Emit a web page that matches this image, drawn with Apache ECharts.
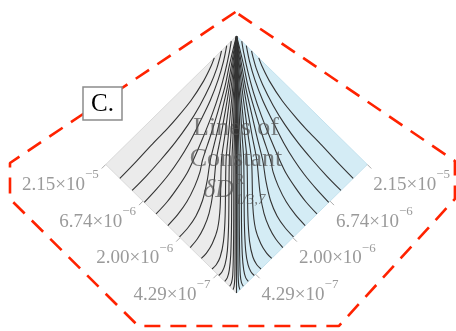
<!DOCTYPE html>
<html>
<head>
<meta charset="utf-8">
<script src="https://cdn.jsdelivr.net/npm/echarts@6/dist/echarts.min.js"></script>
<style>
  html, body { margin: 0; padding: 0; background: #fff; }
  #chart { width: 456px; height: 331px; }
</style>
</head>
<body>
<div id="chart"></div>
<script>
// diamond in normalized units: left (-1,0), top (0,1), right (1,0), bottom (0,-1)
const leftHalf = [[-1, 0], [0, 1], [0, -1]];
const rightHalf = [[0, 1], [1, 0], [0, -1]];
const centerLine = [[0, -1], [0, 1]];

// ticks on the two lower edges (fraction from side vertex to bottom vertex)
const tickPos = [0, 0.285, 0.569, 0.854];
const tickMantissa = ['2.15', '6.74', '2.00', '4.29'];
const tickExponent = ['−5', '−6', '−6', '−7'];

// contour lines of the left half (right half is the mirror)
const leftCurves = [
  [[-0.892, -0.108], [-0.775, 0.015], [-0.651, 0.151], [-0.534, 0.274], [-0.459, 0.359], [-0.348, 0.498], [-0.251, 0.651], [-0.198, 0.758], [-0.17, 0.83]],
  [[-0.798, -0.202], [-0.69, -0.09], [-0.58, 0.035], [-0.47, 0.17], [-0.37, 0.31], [-0.28, 0.46], [-0.2, 0.62], [-0.15, 0.75], [-0.125, 0.84], [-0.115, 0.885]],
  [[-0.705, -0.295], [-0.61, -0.19], [-0.52, -0.08], [-0.44, 0.035], [-0.36, 0.17], [-0.28, 0.33], [-0.2, 0.5], [-0.14, 0.66], [-0.1, 0.8], [-0.075, 0.925]],
  [[-0.615, -0.385], [-0.53, -0.29], [-0.45, -0.18], [-0.38, -0.07], [-0.33, 0.035], [-0.26, 0.2], [-0.19, 0.38], [-0.13, 0.56], [-0.085, 0.73], [-0.055, 0.87], [-0.04, 0.96]],
  [[-0.525, -0.475], [-0.45, -0.39], [-0.38, -0.29], [-0.32, -0.17], [-0.28, -0.06], [-0.26, 0.035], [-0.2, 0.22], [-0.14, 0.42], [-0.09, 0.6], [-0.055, 0.77], [-0.025, 0.9], [0, 1]],
  [[-0.436, -0.564], [-0.37, -0.49], [-0.31, -0.4], [-0.26, -0.28], [-0.225, -0.13], [-0.2, 0.035], [-0.155, 0.22], [-0.11, 0.42], [-0.07, 0.6], [-0.04, 0.77], [-0.018, 0.9], [0, 1]],
  [[-0.354, -0.646], [-0.3, -0.58], [-0.25, -0.49], [-0.21, -0.38], [-0.18, -0.22], [-0.155, 0.035], [-0.12, 0.22], [-0.085, 0.42], [-0.055, 0.6], [-0.03, 0.77], [-0.013, 0.9], [0, 1]],
  [[-0.269, -0.731], [-0.23, -0.69], [-0.185, -0.615], [-0.145, -0.5], [-0.125, -0.33], [-0.115, 0.035], [-0.09, 0.22], [-0.064, 0.42], [-0.041, 0.6], [-0.022, 0.77], [-0.01, 0.9], [0, 1]],
  [[-0.187, -0.813], [-0.155, -0.78], [-0.125, -0.72], [-0.1, -0.6], [-0.087, -0.4], [-0.08, 0.035], [-0.063, 0.22], [-0.045, 0.42], [-0.029, 0.6], [-0.016, 0.77], [-0.007, 0.9], [0, 1]],
  [[-0.136, -0.864], [-0.11, -0.835], [-0.088, -0.78], [-0.07, -0.67], [-0.06, -0.45], [-0.055, 0.035], [-0.043, 0.22], [-0.031, 0.42], [-0.02, 0.6], [-0.011, 0.77], [-0.005, 0.9], [0, 1]],
  [[-0.09, -0.91], [-0.07, -0.88], [-0.055, -0.82], [-0.044, -0.7], [-0.038, -0.45], [-0.035, 0.035], [-0.027, 0.22], [-0.02, 0.42], [-0.013, 0.6], [-0.007, 0.77], [0, 1]],
  [[-0.052, -0.948], [-0.038, -0.92], [-0.029, -0.86], [-0.024, -0.7], [-0.021, -0.4], [-0.02, 0.035], [-0.015, 0.25], [-0.01, 0.5], [-0.005, 0.75], [0, 1]],
  [[-0.026, -0.974], [-0.018, -0.945], [-0.013, -0.88], [-0.011, -0.7], [-0.01, -0.3], [-0.009, 0.1], [-0.006, 0.4], [-0.003, 0.7], [0, 1]]
];

// red dashed outline around the whole figure
const frame = [
  [-0.008, 1.187], [-1.732, 0.012], [-1.732, -0.268], [-0.751, -1.257],
  [0.782, -1.257], [1.670, -0.268], [1.670, 0.027], [-0.008, 1.187]
];

const SERIF = '"Liberation Serif", "DejaVu Serif", serif';
const rightCurves = leftCurves.map(c => c.map(p => [-p[0], p[1]]));

const chart = echarts.init(document.getElementById('chart'));

function halfSeries(pts, fill, stroke) {
  return {
    type: 'custom',
    silent: true,
    z: 1,
    data: [[0, 0]],
    renderItem: (params, api) => ({
      type: 'polygon',
      shape: { points: pts.map(p => api.coord(p)) },
      style: { fill: fill, stroke: stroke, lineWidth: 1 }
    })
  };
}

function curveSeries(points) {
  return {
    type: 'line',
    data: points,
    smooth: 0.3,
    symbol: 'none',
    silent: true,
    z: 2,
    lineStyle: { color: '#333', width: 1.1 }
  };
}

const tickRich = {
  m: { fontFamily: SERIF, fontSize: 19, lineHeight: 26, verticalAlign: 'bottom', fill: '#9a9a9a' },
  s: { fontFamily: SERIF, fontSize: 13, lineHeight: 12, verticalAlign: 'top', fill: '#9a9a9a' }
};

const tickSeries = {
  type: 'custom',
  silent: true,
  z: 3,
  data: tickPos.map((t, i) => [t, i]),
  renderItem: (params, api) => {
    const i = params.dataIndex;
    const t = tickPos[i];
    const pL = api.coord([t - 1, -t]);
    const pR = api.coord([1 - t, -t]);
    const label = '{m|' + tickMantissa[i] + '×10}{s|' + tickExponent[i] + '}';
    return {
      type: 'group',
      children: [
        { type: 'line', shape: { x1: pL[0], y1: pL[1], x2: pL[0] - 4, y2: pL[1] + 4 }, style: { stroke: '#aaa', lineWidth: 1 } },
        { type: 'line', shape: { x1: pR[0], y1: pR[1], x2: pR[0] + 4, y2: pR[1] + 4 }, style: { stroke: '#aaa', lineWidth: 1 } },
        { type: 'text', x: pL[0] - 7, y: pL[1] + 17, style: { text: label, rich: tickRich, fill: '#9a9a9a', align: 'right', verticalAlign: 'middle' } },
        { type: 'text', x: pR[0] + 6, y: pR[1] + 17, style: { text: label, rich: tickRich, fill: '#9a9a9a', align: 'left', verticalAlign: 'middle' } }
      ]
    };
  }
};

const series = [
  halfSeries(leftHalf, '#ebebeb', '#d9d9d9'),
  halfSeries(rightHalf, '#d4ecf5', '#c4e2ee')
];
leftCurves.forEach(c => series.push(curveSeries(c)));
rightCurves.forEach(c => series.push(curveSeries(c)));
series.push(curveSeries(centerLine));
series.push(tickSeries);
series.push({
  type: 'line',
  data: frame,
  symbol: 'none',
  silent: true,
  z: 5,
  lineStyle: { color: '#ff2200', width: 2.6, type: [16, 10] }
});

const centerText = 'rgba(80,80,80,0.72)';

const option = {
  animation: false,
  grid: { left: 0, right: 0, top: 0, bottom: 0 },
  xAxis: { type: 'value', min: -1.8084, max: 1.6782, show: false },
  yAxis: { type: 'value', min: -1.2957, max: 1.2802, show: false },
  series: series,
  graphic: [
    { type: 'text', x: 236, y: 128, z: 10, style: { text: 'Lines of', font: '26px ' + SERIF, fill: centerText, align: 'center', verticalAlign: 'middle' } },
    { type: 'text', x: 236, y: 159, z: 10, style: { text: 'Constant', font: '26px ' + SERIF, fill: centerText, align: 'center', verticalAlign: 'middle' } },
    { type: 'text', x: 234, y: 190, z: 10, style: { text: 'δD', font: 'italic 26px ' + SERIF, fill: centerText, align: 'right', verticalAlign: 'middle' } },
    { type: 'text', x: 235, y: 180, z: 10, style: { text: 'R', font: '14px ' + SERIF, fill: centerText, align: 'left', verticalAlign: 'middle' } },
    { type: 'text', x: 235, y: 200, z: 10, style: { text: '1/3,7', font: 'italic 15px ' + SERIF, fill: centerText, align: 'left', verticalAlign: 'middle' } },
    { type: 'rect', shape: { x: 83, y: 87, width: 39, height: 33 }, z: 10, style: { fill: '#fff', stroke: '#8c8c8c', lineWidth: 1.5 } },
    { type: 'text', x: 102.5, y: 104, z: 11, style: { text: 'C.', font: '25px ' + SERIF, fill: '#000', align: 'center', verticalAlign: 'middle' } }
  ]
};

chart.setOption(option);
window.addEventListener('resize', () => chart.resize());
</script>
</body>
</html>
